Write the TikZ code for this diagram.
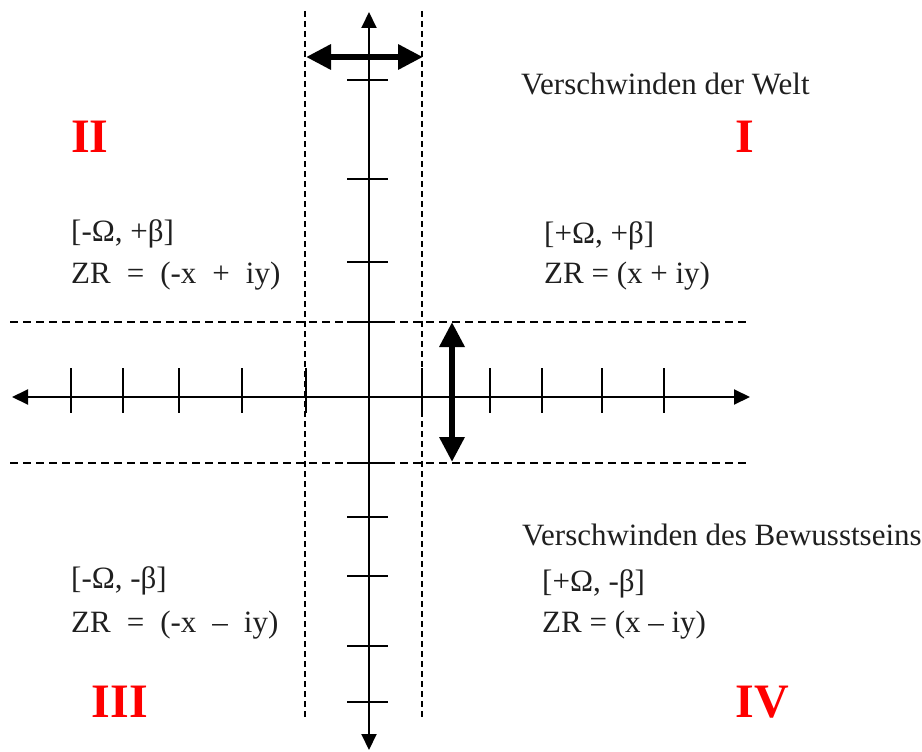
\documentclass[tikz,border=0pt]{standalone}
\usepackage{fontspec}
\setmainfont{Liberation Serif}
\usetikzlibrary{arrows.meta}
\begin{document}
\begin{tikzpicture}[x=1pt,y=-1pt,
  axisline/.style={line width=2pt, draw=black},
  tickline/.style={line width=2pt, draw=black},
  hdash/.style={line width=1.7pt, draw=black, dash pattern=on 8pt off 5pt},
  vdash/.style={line width=1.7pt, draw=black, dash pattern=on 6pt off 4pt},
  bigarrow/.style={line width=6.5pt, draw=black, {Triangle[length=25pt,width=24pt]}-{Triangle[length=25pt,width=24pt]}},
  axisarrow/.style={{Triangle[length=16pt,width=15pt]}-{Triangle[length=16pt,width=15pt]}},
  lbl/.style={anchor=base west, inner sep=0pt, font=\fontsize{31}{37}\selectfont, text=black!88},
  quadlbl/.style={anchor=base, inner sep=0pt, font=\fontsize{48}{52}\selectfont\bfseries, text=red}]
\useasboundingbox (0,0) rectangle (922,752);
% coordinates
\coordinate (xl) at (12,397);
\coordinate (xr) at (750,397);
\coordinate (yt) at (369,12);
\coordinate (yb) at (369,750);
\coordinate (hd1l) at (10,322);
\coordinate (hd1r) at (750,322);
\coordinate (hd2l) at (10,463);
\coordinate (hd2r) at (750,463);
\coordinate (vd1t) at (305,11);
\coordinate (vd1b) at (305,720);
\coordinate (vd2t) at (422,11);
\coordinate (vd2b) at (422,720);
\coordinate (ha1) at (306,57);
\coordinate (ha2) at (423,57);
\coordinate (va1) at (452,322);
\coordinate (va2) at (452,462);
% dashed guides
\draw[hdash] (hd1l) -- (hd1r);
\draw[hdash] (hd2l) -- (hd2r);
\draw[vdash] (vd1t) -- (vd1b);
\draw[vdash] (vd2t) -- (vd2b);
% axes
\draw[axisline, axisarrow] (xl) -- (xr);
\draw[axisline, axisarrow] (yt) -- (yb);
% ticks on horizontal axis
\foreach \tx in {71,123,179,242,306,422,490,542,602,664}
  \draw[tickline] (\tx,368) -- (\tx,413);
% ticks on vertical axis
\foreach \ty in {80,179,262,322,463,517,576,646,702}
  \draw[tickline] (347,\ty) -- (388,\ty);
% thick double arrows
\draw[bigarrow] (ha1) -- (ha2);
\draw[bigarrow] (va1) -- (va2);
% texts
\node[lbl] (welt) at (521,95) {Verschwinden der Welt};
\node[lbl] (bew) at (522,545) {Verschwinden des Bewusstseins};
\node[lbl] (q2a) at (71,241) {[-Ω, +β]};
\node[lbl] (q2b) at (71,283) {ZR\hspace{16pt}=\hspace{16pt}(-x\hspace{16pt}+\hspace{16pt}iy)};
\node[lbl] (q1a) at (544,243) {[+Ω, +β]};
\node[lbl] (q1b) at (544,283) {ZR = (x + iy)};
\node[lbl] (q3a) at (71,588) {[-Ω, -β]};
\node[lbl] (q3b) at (71,632) {ZR\hspace{16pt}=\hspace{16pt}(-x\hspace{16pt}–\hspace{16pt}iy)};
\node[lbl] (q4a) at (542,591) {[+Ω, -β]};
\node[lbl] (q4b) at (542,632) {ZR = (x – iy)};
% quadrant numerals
\node[quadlbl] (nI) at (745,153) {I};
\node[quadlbl] (nII) at (90,153) {II};
\node[quadlbl] (nIII) at (120,717) {III};
\node[quadlbl] (nIV) at (762,717) {IV};
\end{tikzpicture}
\end{document}
